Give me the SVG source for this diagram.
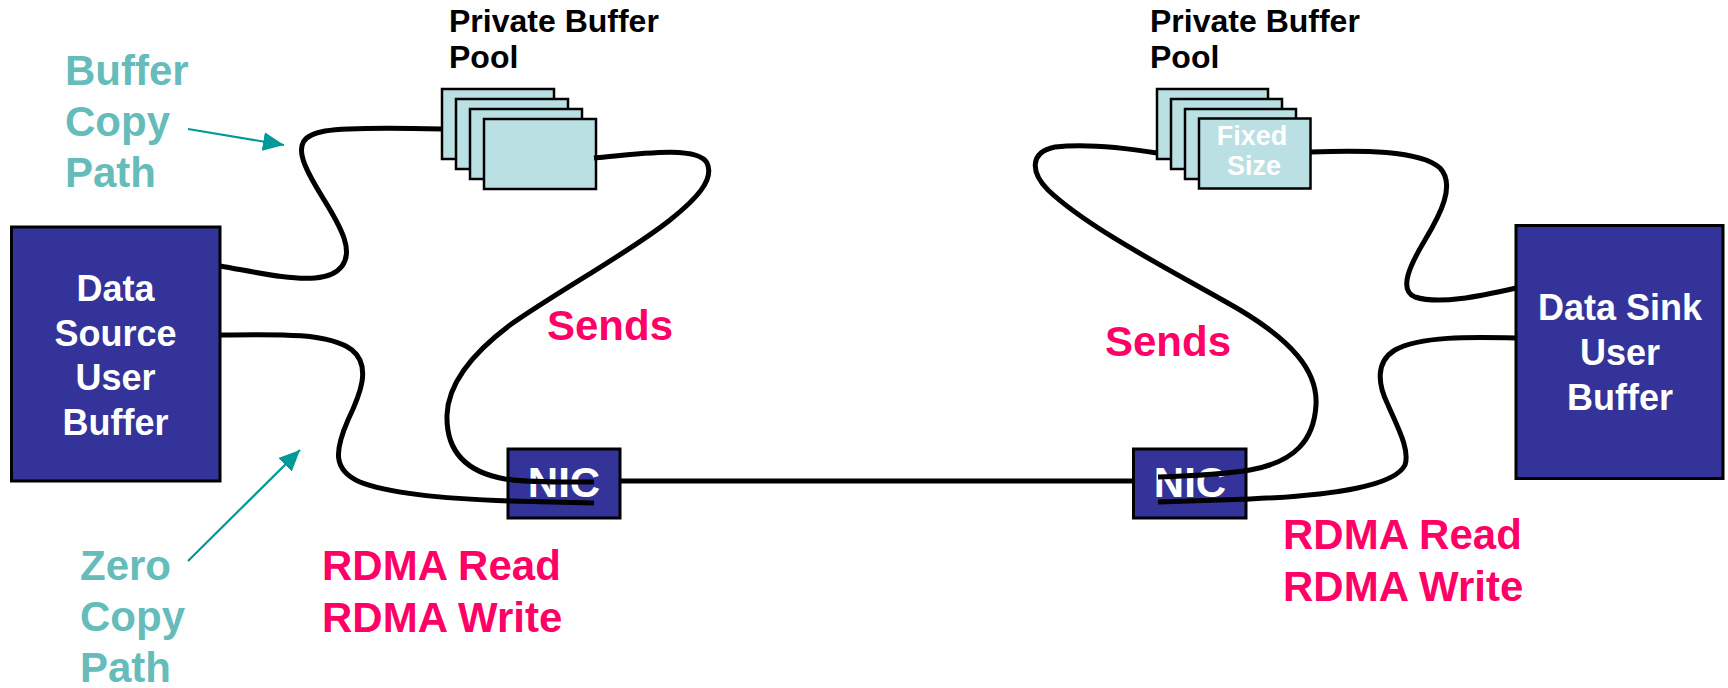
<svg xmlns="http://www.w3.org/2000/svg" width="1728" height="688" viewBox="0 0 1728 688">
<defs>
<style>
text{font-family:"Liberation Sans",Arial,sans-serif;font-weight:bold}
.box{fill:#333399;stroke:#000;stroke-width:3}
.buf{fill:#BBE0E3;stroke:#000;stroke-width:2.5}
.wt{fill:#fff;text-anchor:middle}
.teal{fill:#66BBBB;font-size:42px}
.pink{fill:#FF0066;font-size:42px}
.blk{fill:#000;font-size:32px}
.wire{fill:none;stroke:#000;stroke-width:5;stroke-linecap:butt}
.ptr{fill:none;stroke:#009999;stroke-width:2.2}
</style>
<marker id="ah" viewBox="0 0 21 19" refX="21" refY="9.5" markerWidth="21" markerHeight="19" markerUnits="userSpaceOnUse" orient="auto">
<path d="M0,0 L21,9.5 L0,19 z" fill="#009999"/>
</marker>
</defs>
<rect width="1728" height="688" fill="#fff"/>

<g id="data-source">
<rect class="box" x="11.5" y="227" width="208.5" height="254"/>
<text class="wt" x="115.5" y="301" font-size="36">Data</text>
<text class="wt" x="115.5" y="345.5" font-size="36">Source</text>
<text class="wt" x="115.5" y="390" font-size="36">User</text>
<text class="wt" x="115.5" y="434.5" font-size="36">Buffer</text>
</g>

<g id="data-sink">
<rect class="box" x="1516" y="225.5" width="207" height="253"/>
<text class="wt" x="1620" y="320" font-size="36">Data Sink</text>
<text class="wt" x="1620" y="365" font-size="36">User</text>
<text class="wt" x="1620" y="410" font-size="36">Buffer</text>
</g>

<g id="pool-left">
<text class="blk" x="449" y="32">Private Buffer</text>
<text class="blk" x="449" y="68">Pool</text>
<rect class="buf" x="442" y="89" width="112" height="70"/>
<rect class="buf" x="456" y="99" width="112" height="70"/>
<rect class="buf" x="470" y="109" width="112" height="70"/>
<rect class="buf" x="484" y="119" width="112" height="70"/>
</g>

<g id="pool-right">
<text class="blk" x="1150" y="32">Private Buffer</text>
<text class="blk" x="1150" y="68">Pool</text>
<rect class="buf" x="1157" y="89" width="111" height="70"/>
<rect class="buf" x="1171" y="99" width="111" height="70"/>
<rect class="buf" x="1185" y="109" width="111" height="70"/>
<rect class="buf" x="1199" y="118.5" width="111.5" height="70"/>
<text class="wt" x="1252" y="145" font-size="27">Fixed</text>
<text class="wt" x="1254" y="175" font-size="27">Size</text>
</g>

<g id="nic-left">
<rect class="box" x="508" y="449" width="112" height="69"/>
<text class="wt" x="564" y="497" font-size="42">NIC</text>
</g>

<g id="nic-right">
<rect class="box" x="1133.5" y="449" width="112.5" height="69"/>
<text class="wt" x="1190" y="497" font-size="42">NIC</text>
</g>

<g id="labels">
<text class="teal" x="65" y="85">Buffer</text>
<text class="teal" x="65" y="136">Copy</text>
<text class="teal" x="65" y="187">Path</text>
<text class="teal" x="80" y="580">Zero</text>
<text class="teal" x="80" y="631">Copy</text>
<text class="teal" x="80" y="682">Path</text>
<text class="pink" x="547" y="340">Sends</text>
<text class="pink" x="1105" y="356">Sends</text>
<text class="pink" x="322" y="580">RDMA Read</text>
<text class="pink" x="322" y="632">RDMA Write</text>
<text class="pink" x="1283" y="549">RDMA Read</text>
<text class="pink" x="1283" y="601">RDMA Write</text>
</g>

<g id="connectors">
<path class="wire" d="M220,266 C260,273 290,280 315,278 C340,276 352,262 344,238 C335,212 315,190 305,165 C297,145 302,135 325,131 C350,127 400,128 442,129"/>
<path class="wire" d="M594,158 C645,153 698,146 707,163 C715,180 695,200 670,220 C630,252 560,290 510,325 C470,355 448,385 447,415 C446,450 465,472 505,479 C535,483 565,482 594,482"/>
<path class="wire" d="M220,335 C280,334 330,333 352,350 C372,366 360,395 348,420 C335,450 332,470 360,482 C390,494 450,499 510,501 L594,503"/>
<path class="wire" d="M620,481 L1133.5,481"/>
<path class="wire" d="M1157,153 C1120,147 1080,144 1055,147 C1030,152 1030,172 1048,190 C1090,230 1180,275 1240,310 C1290,340 1318,370 1316,405 C1314,440 1295,462 1250,470 C1220,475 1190,476 1158,477"/>
<path class="wire" d="M1310.5,152 C1360,150 1420,150 1440,168 C1456,185 1440,215 1425,240 C1410,265 1398,290 1415,297 C1440,305 1480,296 1516,288"/>
<path class="wire" d="M1516,338 C1470,337 1420,336 1395,350 C1375,362 1378,385 1388,405 C1398,428 1410,450 1405,465 C1395,485 1340,495 1250,499 L1158,502"/>
<path class="ptr" d="M188,129 L284,145" marker-end="url(#ah)"/>
<path class="ptr" d="M188,561 L300,450" marker-end="url(#ah)"/>
</g>
</svg>
